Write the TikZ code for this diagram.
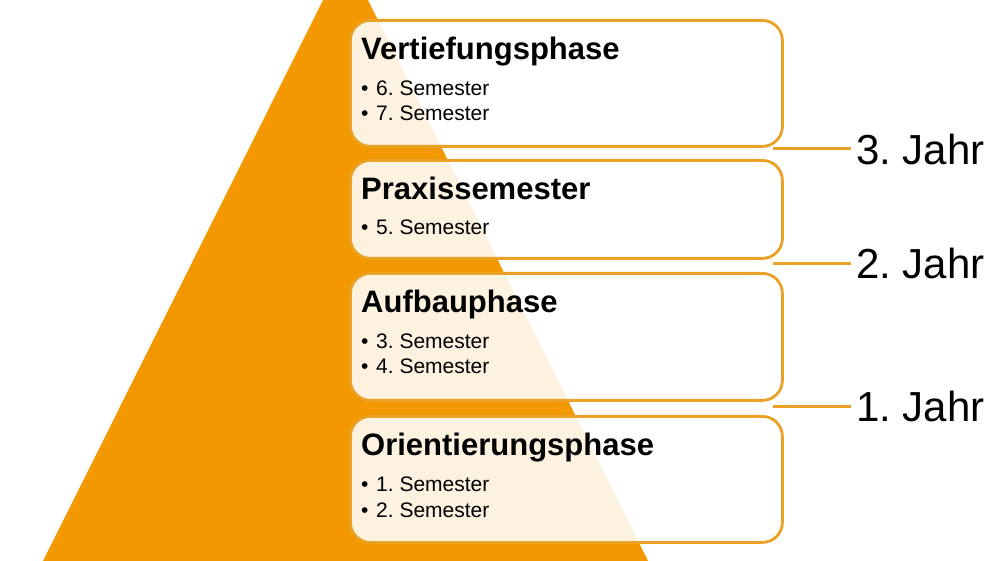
\documentclass[tikz,border=0pt]{standalone}
\usepackage{fontspec}
\setmainfont{Liberation Sans}
\usetikzlibrary{positioning}
\definecolor{pyramidorange}{RGB}{243,152,0}
\definecolor{frameorange}{RGB}{233,162,38}
\frenchspacing

\begin{document}
\begin{tikzpicture}[
      x=1pt, y=-1pt,
      phase/.style     = {draw=frameorange, line width=2.8pt, rounded corners=20pt, fill=white, fill opacity=0.88, text opacity=1,
                          anchor=north west, minimum width=432pt, inner sep=0pt},
      phasehead/.style = {anchor=base west, inner sep=0pt, xshift=12pt, yshift=-41pt, font=\fontsize{31}{36}\selectfont\bfseries},
      semester/.style  = {anchor=base west, inner sep=0pt, font=\fontsize{21}{25}\selectfont},
      jahr/.style      = {anchor=west, inner sep=0pt, outer sep=5pt, font=\fontsize{42}{48}\selectfont},
      jahrline/.style  = {draw=frameorange, line width=3pt}
    ]
    \clip (0,0) rectangle (997,561);
    \fill[pyramidorange] (345.5,-45) -- (43,561) -- (648,561) -- cycle;

    \node (vertiefung)   [phase, minimum height=126pt] at (349,19)  {};
    \node (praxis)       [phase, minimum height=98pt]  at (349,159) {};
    \node (aufbau)       [phase, minimum height=127pt] at (349,272) {};
    \node (orientierung) [phase, minimum height=126pt] at (349,415) {};

    \node (vertiefunghead)   [phasehead] at (vertiefung.north west)   {Vertiefungsphase};
    \node (sem6)             [semester, yshift=-36pt] at (vertiefunghead.base west) {\makebox[15pt][l]{•}6. Semester};
    \node (sem7)             [semester, yshift=-25pt] at (sem6.base west)           {\makebox[15pt][l]{•}7. Semester};

    \node (praxishead)       [phasehead] at (praxis.north west)       {Praxissemester};
    \node (sem5)             [semester, yshift=-35pt] at (praxishead.base west)     {\makebox[15pt][l]{•}5. Semester};

    \node (aufbauhead)       [phasehead] at (aufbau.north west)       {Aufbauphase};
    \node (sem3)             [semester, yshift=-36pt] at (aufbauhead.base west)     {\makebox[15pt][l]{•}3. Semester};
    \node (sem4)             [semester, yshift=-25pt] at (sem3.base west)           {\makebox[15pt][l]{•}4. Semester};

    \node (orientierunghead) [phasehead] at (orientierung.north west) {Orientierungsphase};
    \node (sem1)             [semester, yshift=-36pt] at (orientierunghead.base west) {\makebox[15pt][l]{•}1. Semester};
    \node (sem2)             [semester, yshift=-25pt] at (sem1.base west)             {\makebox[15pt][l]{•}2. Semester};

    \coordinate (jahr3start) at (773,149);
    \coordinate (jahr2start) at (773,263.5);
    \coordinate (jahr1start) at (773,406.5);
    \node (jahr3) [jahr] at (851,149)   {3. Jahr};
    \node (jahr2) [jahr] at (851,263.5) {2. Jahr};
    \node (jahr1) [jahr] at (851,406.5) {1. Jahr};

    \draw[jahrline] (jahr3start) to (jahr3);
    \draw[jahrline] (jahr2start) to (jahr2);
    \draw[jahrline] (jahr1start) to (jahr1);

  \end{tikzpicture}
\end{document}
